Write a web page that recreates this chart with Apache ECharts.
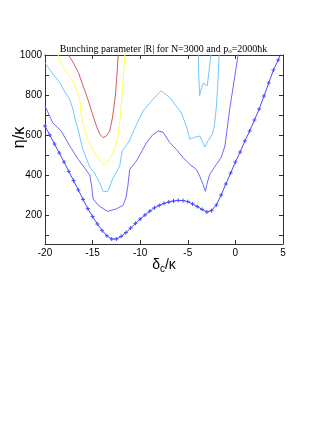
<!DOCTYPE html>
<html>
<head>
<meta charset="utf-8">
<script src="https://cdn.jsdelivr.net/npm/echarts@6/dist/echarts.min.js"></script>
<style>
  html, body { margin: 0; padding: 0; background: #fff; }
  #main { width: 327px; height: 423px; }
</style>
</head>
<body>
<div id="main"></div>
<script>
// marker curve, sampled every 0.5 in delta_c/kappa
var markerX = [-20, -19.5, -19, -18.5, -18, -17.5, -17, -16.5, -16, -15.5, -15, -14.5, -14, -13.5, -13, -12.5,
  -12, -11.5, -11, -10.5, -10, -9.5, -9, -8.5, -8, -7.5, -7, -6.5, -6, -5.5, -5, -4.5, -4, -3.5, -3, -2.5,
  -2, -1.5, -1, -0.5, 0, 0.5, 1, 1.5, 2, 2.5, 3, 3.5, 4, 4.5, 5];
var markerY = [645, 600, 555, 510, 465, 418, 372, 325, 278, 232, 192, 155, 122, 96, 80, 80,
  93, 112, 135, 158, 180, 200, 219, 236, 248, 258, 265, 270, 273, 272, 267, 255, 242, 228, 215, 222,
  250, 300, 355, 410, 465, 515, 570, 620, 675, 730, 795, 860, 925, 975, 1040];

// contour lines as [delta, eta] pairs
var blue2 = [[-20, 745], [-19.8, 725], [-19.2, 662], [-18.3, 620], [-17.4, 545], [-16.5, 478], [-15.6, 420],
  [-15.3, 400], [-15.1, 344], [-14.95, 280], [-14.3, 244], [-13.4, 218], [-12.5, 231], [-11.8, 248],
  [-11.5, 285], [-11.3, 344], [-11.1, 428], [-10.4, 470], [-9.35, 560], [-8.7, 600], [-8.1, 620],
  [-7.6, 614], [-6.9, 562], [-6.2, 528], [-5.5, 487], [-4.8, 453], [-4.1, 428], [-3.75, 394],
  [-3.4, 353], [-3.15, 318], [-3.0, 353], [-2.7, 403], [-2.0, 453], [-1.5, 487], [-1.1, 545],
  [-0.6, 729], [0.3, 1005]];
var cyanA = [[-20, 960], [-19.85, 955], [-19.16, 905], [-18.46, 863], [-17.9, 813], [-17.4, 779],
  [-17.06, 729], [-16.85, 680], [-16.5, 625], [-16.25, 570], [-16.0, 525], [-15.3, 440], [-14.8, 410],
  [-14.25, 360], [-13.9, 318], [-13.4, 318], [-12.9, 380], [-12.15, 445], [-11.9, 520], [-11.2, 565],
  [-10.6, 629], [-10.1, 680], [-9.7, 720], [-8.65, 779], [-7.8, 821], [-6.9, 788], [-5.7, 712],
  [-5.15, 645], [-4.8, 579], [-4.3, 588], [-3.75, 595], [-3.2, 540], [-2.9, 570], [-2.4, 605],
  [-2.2, 650], [-2.0, 740], [-1.85, 860], [-1.7, 1005]];
var cyanB = [[-3.9, 1005], [-3.85, 900], [-3.75, 796], [-3.6, 830], [-3.35, 860], [-3.2, 863],
  [-2.95, 846], [-2.75, 930], [-2.55, 1005]];
var yellow = [[-18.65, 1005], [-18.3, 955], [-17.6, 905], [-17.05, 870], [-16.7, 830], [-16.35, 780],
  [-16.2, 700], [-15.9, 640], [-15.5, 580], [-15.0, 530], [-14.5, 490], [-13.9, 450], [-13.5, 458],
  [-13.0, 500], [-12.6, 540], [-12.35, 590], [-12.15, 660], [-11.9, 800], [-11.6, 1005]];
var red = [[-17.6, 1005], [-17.05, 963], [-16.5, 913], [-16.0, 846], [-15.5, 779], [-14.95, 696],
  [-14.6, 645], [-14.25, 604], [-13.9, 587], [-13.55, 595], [-13.2, 620], [-12.9, 690], [-12.6, 800],
  [-12.45, 900], [-12.3, 1005]];

var yLabels = [200, 400, 600, 800, 1000];
var yTicks = [100, 200, 300, 400, 500, 600, 700, 800, 900, 1000];

var chart = echarts.init(document.getElementById('main'), null, { renderer: 'canvas' });

var markerData = markerX.map(function (x, i) { return [x, markerY[i]]; });

function contour(data, color) {
  return {
    type: 'line',
    data: data,
    symbol: 'none',
    lineStyle: { color: color, width: 1 },
    silent: true
  };
}

var axisLine = { show: true, onZero: false, lineStyle: { color: '#333', width: 1 } };
var tick = { inside: true, length: 4, lineStyle: { color: '#333' } };

var option = {
  animation: false,
  backgroundColor: '#fff',
  title: {
    text: 'Bunching parameter |R| for N=3000 and p{s|o}=2000ħk',
    left: 'center',
    top: 38,
    textStyle: {
      fontFamily: 'Liberation Serif',
      fontWeight: 'normal',
      fontSize: 10,
      color: '#000',
      rich: {
        s: { fontFamily: 'Liberation Serif', fontSize: 7, padding: [5, 0, 0, 0], color: '#000' }
      }
    }
  },
  grid: { left: 45, right: 44, top: 55, bottom: 179, outerBoundsMode: 'none', containLabel: false },
  xAxis: [
    {
      type: 'value', min: -20, max: 5, interval: 5, position: 'bottom',
      axisLine: axisLine,
      axisTick: tick,
      axisLabel: { fontFamily: 'Liberation Sans', fontSize: 10, color: '#000', margin: 4 },
      splitLine: { show: false },
      name: '{a|δ}{s|c}{a|/κ}',
      nameLocation: 'middle',
      nameGap: 12,
      nameMoveOverlap: false,
      nameTextStyle: {
        rich: {
          a: { fontFamily: 'Liberation Sans', fontSize: 14, color: '#000' },
          s: { fontFamily: 'Liberation Sans', fontSize: 10, color: '#000', padding: [8, 0, 0, 0] }
        }
      }
    },
    {
      type: 'value', min: -20, max: 5, interval: 5, position: 'top',
      axisLine: axisLine,
      axisTick: tick,
      axisLabel: { show: false },
      splitLine: { show: false }
    }
  ],
  yAxis: [
    {
      type: 'value', min: 55, max: 1000, position: 'left',
      axisLine: axisLine,
      axisTick: { inside: true, length: 4, customValues: yTicks, lineStyle: { color: '#333' } },
      axisLabel: {
        customValues: yLabels, fontFamily: 'Liberation Sans', fontSize: 10, color: '#000', margin: 3,
        formatter: function (v) { return String(v); }
      },
      splitLine: { show: false },
      name: 'η/κ',
      nameLocation: 'middle',
      nameGap: 17,
      nameMoveOverlap: false,
      nameRotate: 90,
      nameTextStyle: { fontFamily: 'Liberation Sans', fontSize: 16, color: '#000', padding: [0, 0, 0, 24] }
    },
    {
      type: 'value', min: 55, max: 1000, position: 'right',
      axisLine: axisLine,
      axisTick: { inside: true, length: 4, customValues: yTicks, lineStyle: { color: '#333' } },
      axisLabel: { show: false },
      splitLine: { show: false }
    }
  ],
  series: [
    contour(red, '#d06060'),
    contour(yellow, '#ffff55'),
    contour(cyanA, '#70c8ff'),
    contour(cyanB, '#70c8ff'),
    contour(blue2, '#6a6aff'),
    {
      type: 'line',
      data: markerData,
      symbol: 'path://M0,5H10M5,0V10',
      symbolSize: 4,
      showAllSymbol: true,
      lineStyle: { color: '#4a4aff', width: 1 },
      itemStyle: { color: '#4a4aff', borderColor: '#4a4aff', borderWidth: 1 },
      silent: true
    }
  ]
};

chart.setOption(option);
</script>
</body>
</html>
